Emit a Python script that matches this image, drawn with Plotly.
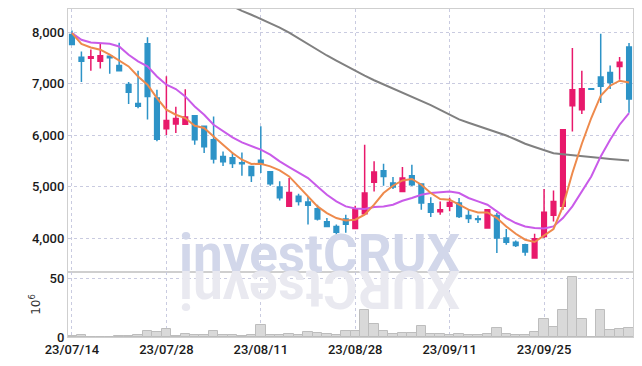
import plotly.graph_objects as go

dates = ["2023-07-14",
         "2023-07-17", "2023-07-18", "2023-07-19", "2023-07-20", "2023-07-21",
         "2023-07-24", "2023-07-25", "2023-07-26", "2023-07-27", "2023-07-28",
         "2023-07-31", "2023-08-01", "2023-08-02", "2023-08-03", "2023-08-04",
         "2023-08-07", "2023-08-08", "2023-08-09", "2023-08-10", "2023-08-11",
         "2023-08-14", "2023-08-16", "2023-08-17", "2023-08-18",
         "2023-08-21", "2023-08-22", "2023-08-23", "2023-08-24", "2023-08-25",
         "2023-08-28", "2023-08-29", "2023-08-30", "2023-08-31", "2023-09-01",
         "2023-09-04", "2023-09-05", "2023-09-06", "2023-09-07", "2023-09-08",
         "2023-09-11", "2023-09-12", "2023-09-13", "2023-09-14", "2023-09-15",
         "2023-09-18", "2023-09-19", "2023-09-20", "2023-09-21", "2023-09-22",
         "2023-09-25", "2023-09-26", "2023-09-27",
         "2023-10-04", "2023-10-05", "2023-10-06",
         "2023-10-10", "2023-10-11", "2023-10-12", "2023-10-13"]

open_ = [7950, 7510, 7490, 7430, 7530, 7350, 6980, 6610, 7770, 6720,
         6120, 6215, 6210, 6375, 6170, 5910, 5585, 5560, 5460, 5390,
         5510, 5285, 4990, 4615, 4810, 4700, 4570, 4315, 4225, 4370,
         4185, 4470, 5085, 5305, 5070, 4905, 5210, 5050, 4665, 4510,
         4615, 4680, 4435, 4375, 4195, 4435, 4000, 3920, 3870, 3610,
         4030, 4440, 4615, 6570, 6490, 6900, 7125, 7215, 7330, 7710]
high = [8030, 7620, 7660, 7770, 7540, 7790, 7030, 7250, 7900, 6880,
        7140, 6550, 6890, 6380, 6180, 6360, 5680, 5660, 5660, 5400,
        6170, 5290, 5100, 5165, 4860, 4810, 4645, 4390, 4260, 4450,
        4625, 5810, 5490, 5440, 5185, 5380, 5425, 5060, 4790, 4710,
        4780, 4775, 4550, 4435, 4560, 4485, 4175, 3950, 3890, 4085,
        4950, 4925, 6110, 7690, 7250, 6900, 7965, 7350, 7515, 7785]
low = [7750, 7030, 7250, 7290, 7190, 7235, 6600, 6520, 6300, 5880,
       6000, 6040, 6210, 5810, 5650, 5445, 5400, 5360, 5210, 5090,
       5260, 5015, 4730, 4615, 4630, 4260, 4340, 4225, 4065, 4100,
       4185, 4470, 4905, 5015, 4950, 4905, 5010, 4550, 4410, 4450,
       4520, 4390, 4290, 4290, 4190, 3710, 3870, 3825, 3655, 3610,
       4000, 4320, 4550, 6070, 6410, 6890, 6620, 6895, 7075, 6430]
close = [7760, 7430, 7520, 7540, 7500, 7250, 6830, 6560, 6750, 5920,
         6280, 6320, 6350, 5910, 5770, 5535, 5480, 5445, 5440, 5215,
         5445, 5055, 4780, 4885, 4710, 4635, 4370, 4225, 4110, 4265,
         4550, 4875, 5280, 5195, 4990, 5165, 5035, 4680, 4500, 4550,
         4690, 4420, 4380, 4360, 4550, 4000, 3920, 3855, 3730, 3985,
         4500, 4710, 6100, 6880, 6900, 6890, 6945, 7020, 7415, 6700]

ma5 = [7980, 7767, 7701, 7656, 7559, 7443, 7332, 7138, 6977, 6718,
       6491, 6394, 6330, 6180, 6136, 5973, 5812, 5650, 5520, 5437,
       5443, 5391, 5313, 5196, 5002, 4808, 4614, 4485, 4388, 4342,
       4355, 4452, 4647, 4874, 5015, 5118, 5146, 5035, 4874, 4757,
       4744, 4647, 4550, 4497, 4497, 4388, 4225, 4083, 3967, 3922,
       4045, 4175, 4614, 5262, 5830, 6330, 6763, 6957, 7054, 7021]
ma10 = [7980, 7850, 7798, 7786, 7773, 7720, 7559, 7430, 7332, 7138,
        6977, 6893, 6750, 6555, 6394, 6200, 6070, 5955, 5857, 5785,
        5715, 5618, 5488, 5378, 5274, 5165, 5002, 4841, 4711, 4614,
        4575, 4563, 4602, 4614, 4647, 4724, 4777, 4841, 4874, 4893,
        4905, 4874, 4777, 4711, 4647, 4517, 4388, 4291, 4225, 4194,
        4186, 4225, 4388, 4614, 4905, 5196, 5585, 5909, 6200, 6427]
ma_long = [None] * 16 + [
    8590, 8497, 8412, 8335, 8256, 8173, 8087, 7986, 7872, 7757,
    7647, 7544, 7445, 7344, 7247, 7155, 7064, 6984, 6903, 6823,
    6744, 6664, 6581, 6487, 6396, 6303, 6239, 6179, 6117, 6056,
    5990, 5913, 5831, 5767, 5707, 5647, 5627, 5612, 5594, 5571,
    5553, 5536, 5520, 5505]

volume = [0.8, 1.3, 0.3, 0.3, 0.4, 0.8, 1.2, 1.5, 5.1, 4.3,
          7.0, 1.2, 2.9, 1.3, 1.6, 5.1, 1.4, 1.6, 1.1, 1.8,
          10.4, 1.8, 2.0, 2.9, 1.8, 4.3, 3.4, 2.6, 2.0, 5.0,
          5.0, 23.2, 11.1, 5.0, 2.6, 3.4, 3.4, 9.4, 2.6, 2.6,
          1.7, 2.6, 1.7, 1.7, 2.6, 7.7, 2.6, 1.7, 1.7, 4.3,
          15.4, 8.6, 23.2, 51.2, 15.4, 0.3, 23.2, 6.0, 6.9, 7.7]

tick_dates = ["2023-07-14", "2023-07-28", "2023-08-11", "2023-08-28", "2023-09-11", "2023-09-25"]
tick_labels = ["23/07/14", "23/07/28", "23/08/11", "23/08/28", "23/09/11", "23/09/25"]
price_ticks = [4000, 5000, 6000, 7000, 8000]
vol_ticks = [0, 50]
watermark = "investCRUX"

UP = "#e8196b"
DOWN = "#2d93c7"
GRID = "#c9cbe0"
FRAME = "#cfcfcf"
TICKFONT = dict(family="Roboto, sans-serif", size=13, color="#1a1a1a", weight=500)

fig = go.Figure()
fig.add_trace(go.Bar(x=dates, y=volume, yaxis="y2", marker=dict(color="#d9d9d9", line=dict(color="#bdbdbd", width=1)),
                     showlegend=False, hoverinfo="skip"))
fig.add_trace(go.Scatter(x=dates, y=ma_long, mode="lines", line=dict(color="#808080", width=2), showlegend=False))
fig.add_trace(go.Scatter(x=dates, y=ma10, mode="lines", line=dict(color="#c95be9", width=2), showlegend=False))
fig.add_trace(go.Scatter(x=dates, y=ma5, mode="lines", line=dict(color="#ee8a4c", width=2), showlegend=False))
fig.add_trace(go.Candlestick(x=dates, open=open_, high=high, low=low, close=close,
                             increasing=dict(line=dict(color=UP, width=1.5), fillcolor=UP),
                             decreasing=dict(line=dict(color=DOWN, width=1.5), fillcolor=DOWN),
                             whiskerwidth=0, showlegend=False))

# page has an 8px body offset; plot area on the page: x 68..632.7, y 9.3..337.3
OFF = 8
W, H = 642, 366
P_L, P_R, P_T, P_B = 68, 632.7, 9.3, 337.3
L = P_L - OFF
T = P_T - OFF
R = W - (P_R - OFF)
B = H - (P_B - OFF)
pw, ph = P_R - P_L, P_B - P_T
def px(xp):
    return (xp - P_L) / pw
def py(yp):
    return (P_B - yp) / ph

split = py(272.3)

fig.update_layout(
    width=W, height=H, margin=dict(l=L, r=R, t=T, b=B, autoexpand=False),
    paper_bgcolor="white", plot_bgcolor="white", bargap=0,
    xaxis=dict(type="category", range=[-0.42, 59.42], anchor="y2", rangeslider=dict(visible=False),
               tickmode="array", tickvals=tick_dates, ticktext=tick_labels, tickfont=TICKFONT,
               showgrid=True, gridcolor=GRID, griddash="dot", gridwidth=1, automargin=False,
               showline=True, linecolor=FRAME, mirror="all", ticks="", ticklen=0),
    yaxis=dict(domain=[split, 1], range=[3340, 8447], tickmode="array", tickvals=price_ticks,
               tickformat=",d", tickfont=TICKFONT, showgrid=True, gridcolor=GRID, griddash="dot",
               showline=True, linecolor=FRAME, mirror=True, zeroline=False, automargin=False),
    yaxis2=dict(domain=[0, split], range=[0, 55.7], tickmode="array", tickvals=vol_ticks,
                tickfont=TICKFONT, showgrid=True, gridcolor=GRID, griddash="dot", automargin=False,
                showline=True, linecolor=FRAME, mirror=True, zeroline=False,
                title=dict(text="10<sup>6</sup>", font=dict(family="DejaVu Sans", size=12, color="#333"), standoff=6)),
)

# watermark and its mirrored reflection (reversed string rotated 180 deg reads as a vertical flip)
wm_size = 53
fig.add_annotation(text="<b>" + watermark + "</b>", xref="paper", yref="paper", x=px(319.5), y=py(254),
                   xanchor="center", yanchor="middle", showarrow=False, borderpad=0,
                   font=dict(family="Roboto", size=wm_size, color="#d2d7ea"))
fig.add_annotation(text="<b>" + watermark[::-1] + "</b>", xref="paper", yref="paper", x=px(319.5), y=py(544 - 254),
                   xanchor="center", yanchor="middle", showarrow=False, textangle=180, borderpad=0,
                   font=dict(family="Roboto", size=wm_size, color="#e9e9f0"))

fig.write_html("out.html")
